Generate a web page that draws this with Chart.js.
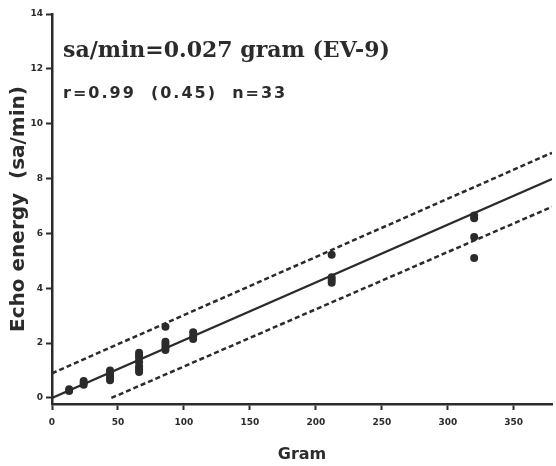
<!DOCTYPE html>
<html>
<head>
<meta charset="utf-8">
<script src="https://cdn.jsdelivr.net/npm/chart.js@4/dist/chart.umd.min.js"></script>
<style>
    html, body { margin: 0; padding: 0; background: #ffffff; }
    #wrap { width: 556px; height: 466px; position: relative; }
</style>
</head>
<body>
<div id="wrap"><canvas id="chart-echo"></canvas></div>
<script>
// —— Données
const grams = [
    13, 13,
    24, 24, 24,
    44, 44, 44, 44, 44,
    66, 66, 66, 66, 66, 66, 66,
    86, 86, 86, 86, 86,
    107, 107, 107,
    212, 212, 212, 212,
    320, 320, 320, 320,
];
const energy = [
    0.25, 0.32,
    0.48, 0.55, 0.62,
    0.65, 0.75, 0.85, 0.95, 1.0,
    0.95, 1.05, 1.15, 1.3, 1.45, 1.55, 1.65,
    1.75, 1.85, 1.95, 2.05, 2.6,
    2.15, 2.25, 2.4,
    4.2, 4.3, 4.4, 5.22,
    5.1, 5.87, 6.55, 6.65,
];

const fitX = [0, 379];
const fitY = [0, 7.98];
const upperX = [0, 379];
const upperY = [0.9, 8.94];
const lowerX = [45, 379];
const lowerY = [0, 6.97];

const xTicks = [0, 50, 100, 150, 200, 250, 300, 350];
const yTicks = [0, 2, 4, 6, 8, 10, 12, 14];

const titleText = 'sa/min=0.027 gram (EV-9)';
const statsText = 'r=0.99  (0.45)  n=33';

const ink = '#2b2b2b';

const toPoints = (xs, ys) => xs.map((x, i) => ({ x, y: ys[i] }));

// —— Annotations texte (titre + statistiques)
const annotations = {
    id: 'annotations',
    afterDraw(chart) {
        const { ctx, chartArea } = chart;
        ctx.save();
        ctx.fillStyle = ink;
        ctx.textAlign = 'left';
        ctx.textBaseline = 'alphabetic';
        ctx.font = 'bold 22px "DejaVu Serif"';
        ctx.fillText(titleText, chartArea.left + 11, 57);
        ctx.font = 'bold 16px "DejaVu Sans"';
        if ('letterSpacing' in ctx) ctx.letterSpacing = '2px';
        ctx.fillText(statsText, chartArea.left + 11, 98);
        ctx.restore();
    },
};

const canvas = document.getElementById('chart-echo');
const ctx = canvas.getContext('2d');

new Chart(ctx, {
    type: 'scatter',
    data: {
        datasets: [
            {
                label: 'Mesures',
                data: toPoints(grams, energy),
                backgroundColor: ink,
                borderColor: ink,
                pointRadius: 4,
                pointBorderWidth: 0,
            },
            {
                type: 'line',
                label: 'Régression',
                data: toPoints(fitX, fitY),
                borderColor: ink,
                borderWidth: 2.3,
                pointRadius: 0,
                fill: false,
            },
            {
                type: 'line',
                label: 'Limite haute',
                data: toPoints(upperX, upperY),
                borderColor: ink,
                borderWidth: 2.5,
                borderDash: [5, 3],
                pointRadius: 0,
                fill: false,
            },
            {
                type: 'line',
                label: 'Limite basse',
                data: toPoints(lowerX, lowerY),
                borderColor: ink,
                borderWidth: 2.5,
                borderDash: [5, 3],
                pointRadius: 0,
                fill: false,
            },
        ],
    },
    options: {
        responsive: true,
        maintainAspectRatio: false,
        animation: false,
        layout: { padding: { top: 14, right: 0, left: 0, bottom: 0 } },
        plugins: {
            legend: { display: false },
            tooltip: { enabled: false },
        },
        scales: {
            x: {
                type: 'linear',
                min: 0,
                max: 379,
                afterBuildTicks: (scale) => {
                    scale.ticks = xTicks.map((v) => ({ value: v }));
                },
                afterFit: (scale) => {
                    scale.height = 62;
                },
                border: { display: true, color: ink, width: 2.5 },
                grid: {
                    drawOnChartArea: false,
                    drawTicks: true,
                    tickLength: 6,
                    tickWidth: 2,
                    tickColor: ink,
                },
                ticks: {
                    autoSkip: false,
                    maxRotation: 0,
                    padding: 7,
                    color: ink,
                    font: { family: 'DejaVu Sans', size: 9, weight: 'bold' },
                },
                title: {
                    display: true,
                    text: 'Gram',
                    color: ink,
                    padding: { top: 0, bottom: 2 },
                    font: { family: 'DejaVu Sans', size: 16, weight: 'bold' },
                },
            },
            y: {
                type: 'linear',
                min: -0.22,
                max: 14,
                afterBuildTicks: (scale) => {
                    scale.ticks = yTicks.map((v) => ({ value: v }));
                },
                afterFit: (scale) => {
                    scale.width = 52;
                },
                border: { display: true, color: ink, width: 2.5 },
                grid: {
                    drawOnChartArea: false,
                    drawTicks: true,
                    tickLength: 6,
                    tickWidth: 2,
                    tickColor: ink,
                },
                ticks: {
                    autoSkip: false,
                    padding: 3,
                    color: ink,
                    font: { family: 'DejaVu Sans', size: 9, weight: 'bold' },
                },
                title: {
                    display: true,
                    text: 'Echo energy  (sa/min)',
                    color: ink,
                    padding: { top: 7, bottom: 0 },
                    font: { family: 'DejaVu Sans', size: 20, weight: 'bold' },
                },
            },
        },
    },
    plugins: [annotations],
});
</script>
</body>
</html>
